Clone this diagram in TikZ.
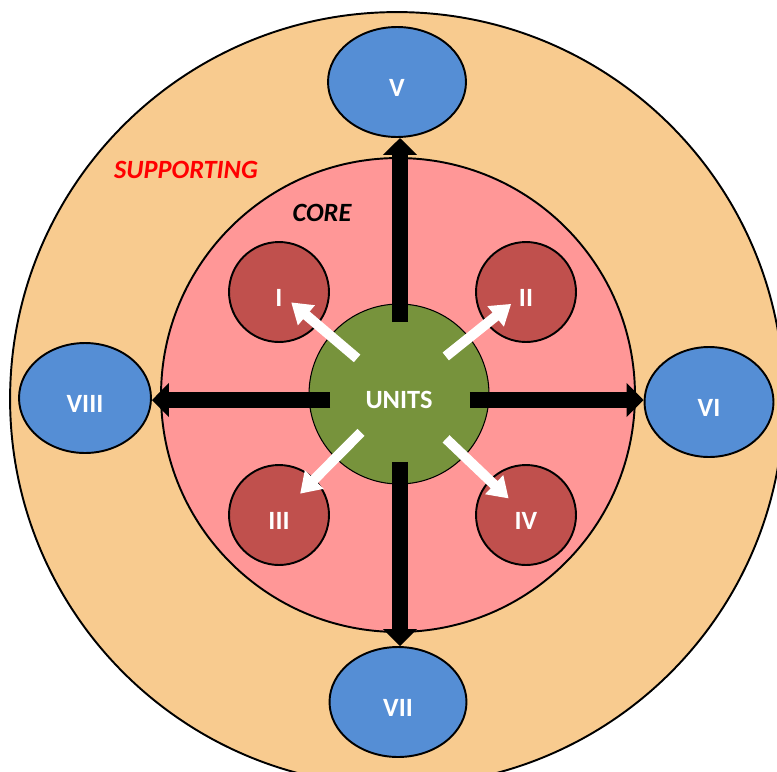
\documentclass[tikz,border=0pt]{standalone}
\usepackage{fontspec}
\setmainfont{Carlito}
\usetikzlibrary{arrows.meta,shapes.geometric}
\definecolor{supportfill}{HTML}{F8CB8F}
\definecolor{corefill}{HTML}{FF9797}
\definecolor{unitsgreen}{HTML}{77933C}
\definecolor{subred}{HTML}{C0504D}
\definecolor{unitblue}{HTML}{558ED5}
\begin{document}
\begin{tikzpicture}[x=0.02cm, y=-0.02cm, every node/.style={font=\fontsize{15}{18}\selectfont\bfseries},
  ring/.style={draw,circle,line width=1.1pt,inner sep=0pt},
  sub/.style={ring,fill=subred,minimum size=2cm,text=white,text height=16.5pt,text depth=0pt},
  unit/.style={draw,ellipse,fill=unitblue,line width=1.1pt,minimum height=2.2cm,text=white,text height=16.5pt,text depth=0pt},
  bigarrow/.style={line width=9pt,shorten <=1.4cm,-{Triangle[width=0.66cm,length=0.34cm]}},
  smallarrow/.style={white,line width=5.7pt,-{Triangle[width=0.5cm,length=0.4cm]}}]
\clip (0,0) rectangle (777,771);
\node[ring,fill=supportfill,minimum size=15.48cm] (support) at (397,399) {};
\node[ring,fill=corefill,minimum size=9.48cm] (core) at (398,395) {};
\node[unit,minimum width=2.76cm] (V) at (397,82) {V};
\node[unit,minimum width=2.58cm] (VI) at (709,402) {VI};
\node[unit,minimum width=2.74cm] (VII) at (398,702) {VII};
\node[unit,minimum width=2.64cm] (VIII) at (85,398) {VIII};
\node[ring,fill=unitsgreen,line width=0.6pt,minimum size=3.6cm,text=white,text height=16.5pt,text depth=0pt] (units) at (399,394) {UNITS};
\node[sub] (I) at (279,292) {I};
\node[sub] (II) at (526,292) {II};
\node[sub] (III) at (279,515) {III};
\node[sub] (IV) at (526,515) {IV};
% black arrows to the supporting units
\coordinate (hubh) at (400,400);
\coordinate (hubv) at (400,392);
\draw[bigarrow] (hubv) -- (hubv |- V.south);
\draw[bigarrow] (hubh) -- (hubh -| VI.west);
\draw[bigarrow] (hubv) -- (hubv |- VII.north);
\draw[bigarrow] (hubh) -- (hubh -| VIII.east);
% white arrows to the core units
\draw[smallarrow,shorten <=1.1cm,shorten >=0.32cm] (units.center) -- (I.center);
\draw[smallarrow,shorten <=1.2cm,shorten >=0.38cm] (units.center) -- (II.center);
\draw[smallarrow,shorten <=1.08cm,shorten >=0.6cm] (units.center) -- (III.center);
\draw[smallarrow,shorten <=1.3cm,shorten >=0.48cm] (units.center) -- (IV.center);
\node[text=red,font=\fontsize{15}{18}\selectfont\bfseries\itshape] (supportlabel) at (186,170) {SUPPORTING};
\node[font=\fontsize{15}{18}\selectfont\bfseries\itshape] (corelabel) at (322,213) {CORE};
\end{tikzpicture}
\end{document}
